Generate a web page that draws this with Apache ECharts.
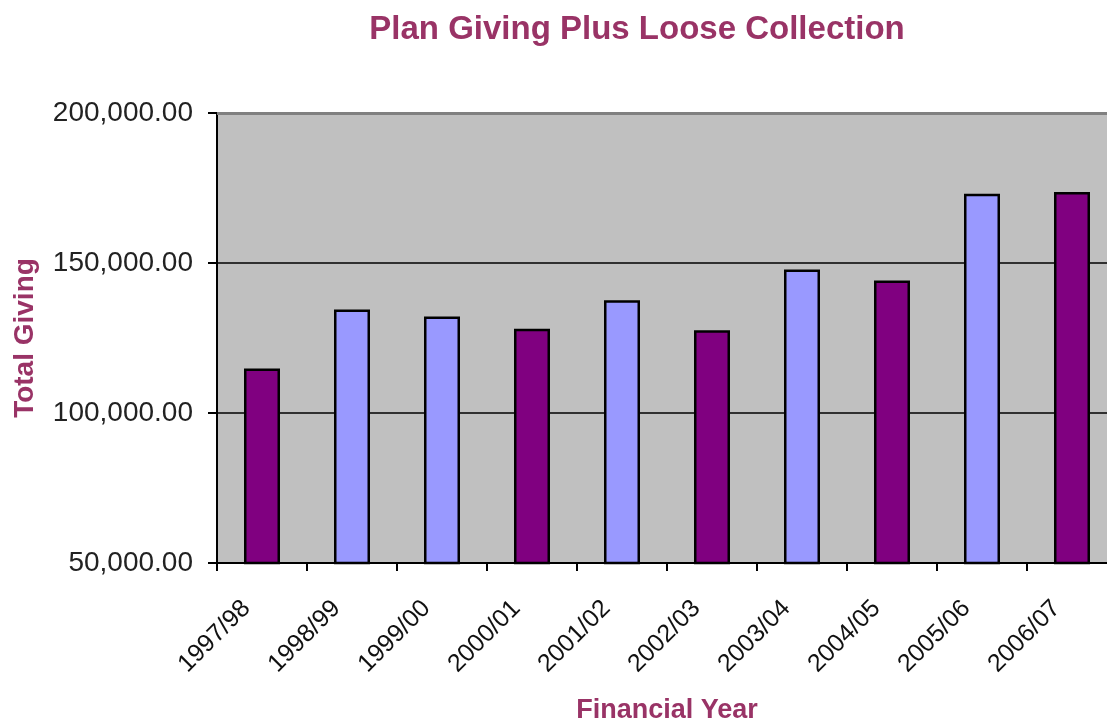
<!DOCTYPE html>
<html><head><meta charset="utf-8">
<script src="https://cdn.jsdelivr.net/npm/echarts@6/dist/echarts.min.js"></script>
<style>html,body{margin:0;padding:0;background:#fff;overflow:hidden}#c{width:1107px;height:723px}</style>
</head><body><div id="c"></div>
<script>
const categories = ['1997/98','1998/99','1999/00','2000/01','2001/02','2002/03','2003/04','2004/05','2005/06','2006/07'];
const totalGiving = [114800, 134500, 132200, 128100, 137600, 127600, 147800, 144200, 173100, 173700];
const barColors = ['#800080','#9999FF','#9999FF','#800080','#9999FF','#800080','#9999FF','#800080','#9999FF','#800080'];
const yTicks = [50000, 100000, 150000, 200000];

const chart = echarts.init(document.getElementById('c'));
chart.setOption({
  animation: false,
  backgroundColor: '#fff',
  title: {
    text: 'Plan Giving Plus Loose Collection',
    left: 632, top: 8, textAlign: 'center',
    textStyle: {fontFamily: 'Liberation Sans, Arial', fontWeight: 'bold', fontSize: 33, color: '#993366'}
  },
  grid: {left: 217, top: 113, right: -10, bottom: 160, show: true, backgroundColor: '#C0C0C0', borderWidth: 0,
         outerBoundsMode: 'none', containLabel: false},
  xAxis: {
    type: 'category', data: categories,
    name: 'Financial Year', nameLocation: 'middle', nameGap: 134,
    nameTextStyle: {fontFamily: 'Liberation Sans, Arial', fontWeight: 'bold', fontSize: 27, color: '#993366'},
    axisLine: {lineStyle: {color: '#000', width: 2}},
    axisTick: {show: true, length: 8, lineStyle: {color: '#000', width: 2}},
    axisLabel: {rotate: 45, fontFamily: 'Liberation Sans, Arial', fontSize: 25, color: '#111', margin: 26,
                padding: [0, 22, 0, 0], hideOverlap: false}
  },
  yAxis: {
    type: 'value', min: 50000, max: 200000, interval: 50000,
    name: 'Total Giving', nameLocation: 'middle', nameGap: 178, nameRotate: 90,
    nameTextStyle: {fontFamily: 'Liberation Sans, Arial', fontWeight: 'bold', fontSize: 28, color: '#993366'},
    axisLine: {show: true, lineStyle: {color: '#000', width: 2}},
    axisTick: {show: true, length: 9, lineStyle: {color: '#000', width: 2}},
    axisLabel: {
      fontFamily: 'Liberation Sans, Arial', fontSize: 28, color: '#222', margin: 24,
      formatter: v => yTicks.includes(v) ? v.toLocaleString('en-US', {minimumFractionDigits: 2, maximumFractionDigits: 2}) : ''
    },
    splitLine: {show: true, lineStyle: {color: '#000', width: 1.5}}
  },
  series: [{
    type: 'bar', barWidth: 36,
    data: totalGiving.map((v, i) => ({value: v, itemStyle: {color: barColors[i]}})),
    itemStyle: {borderColor: '#000', borderWidth: 2.5}
  }, {
    type: 'line', data: [], markLine: {silent: true, symbol: 'none', label: {show: false},
      lineStyle: {color: '#808080', width: 3, type: 'solid'}, data: [{yAxis: 200000}]}
  }]
});
</script></body></html>
